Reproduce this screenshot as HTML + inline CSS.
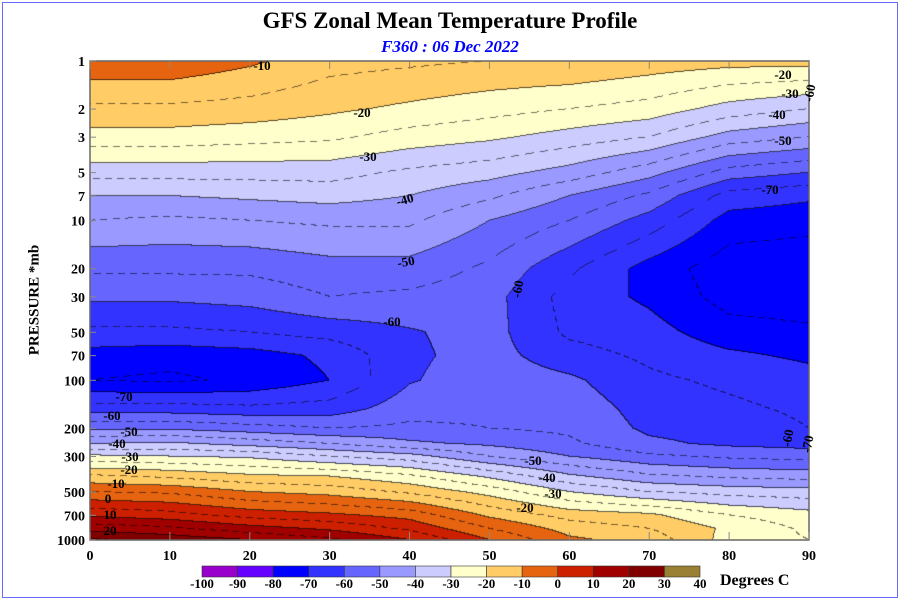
<!DOCTYPE html>
<html><head><meta charset="utf-8"><style>
body{margin:0;background:#fff;}
#wrap{position:relative;width:900px;height:600px;overflow:hidden;font-family:"Liberation Serif",serif;}
.t{position:absolute;font-weight:bold;white-space:nowrap;}
</style></head><body>
<div id="wrap">
<div style="position:absolute;left:2px;top:2px;width:894px;height:594px;border:1px solid #6a6aff;"></div>
<div class="t" style="left:0;width:900px;text-align:center;top:8px;font-size:23px;">GFS Zonal Mean Temperature Profile</div>
<div class="t" style="left:0;width:900px;text-align:center;top:37px;font-size:17px;color:#0000ff;font-style:italic;">F360 : 06 Dec 2022</div>
<div class="t" style="left:35px;top:300px;font-size:15px;transform:translate(-50%,-50%) rotate(-90deg);">PRESSURE *mb</div>
<canvas id="cv" width="719" height="479" style="position:absolute;left:90px;top:61px;"></canvas>
<svg id="ov" width="900" height="600" style="position:absolute;left:0;top:0;"></svg>
</div>
<script>
const lats=[0,10,20,30,40,50,60,70,80,90];
const pressures=[1,2,3,5,7,10,20,30,50,70,100,150,200,250,300,400,500,700,850,1000];
const t0 =[-6,-16,-22,-33,-40,-45,-54,-59,-66,-72,-75,-63,-51,-40,-29,-14,-5,9,18,26];
const t10=[-6,-16,-22,-33,-40,-46,-54,-59,-66,-73,-76,-63,-51,-39,-30,-16,-6,7,16,23];
const t20=[-9,-17,-23,-33,-39,-45,-54,-58,-65,-72,-74,-64,-53,-42,-31,-19,-10,3,12,20];
const t30=[-13,-19,-24,-33,-38,-44,-52,-55,-63,-69,-70,-63,-55,-45,-35,-20,-12,1,9,16];
const t40=[-14,-21,-27,-36,-40,-44,-52,-56,-60.5,-61,-60.5,-57,-54,-49,-38,-24,-16,-2,4,10];
const t50=[-15,-23,-29,-38,-44,-50,-56,-58,-58,-58,-57,-56,-55,-51,-45,-31,-22,-11,-5,0];
const t60=[-15,-25,-32,-42,-50,-55,-64,-67,-66,-63,-59,-57,-56,-54,-50,-39,-30,-17,-12,-9];
const t70=[-17,-27,-35,-48,-56,-62,-72,-71,-68,-66,-64,-62,-61,-59,-54,-44,-35,-19,-15,-12];
const t80=[-18,-32,-42,-57,-67,-72,-78,-77,-73,-69,-66,-64,-62,-61,-56,-46,-37,-25,-21,-22];
const t90=[-18,-35,-45,-60,-69,-73,-79,-78,-74,-71,-68,-66,-65,-62,-57,-47,-38,-28,-26,-25];
const temps=[t0,t10,t20,t30,t40,t50,t60,t70,t80,t90];
const bandEdges=[-100,-90,-80,-70,-60,-50,-40,-30,-20,-10,0,10,20,30,40];
const bandColors=["#9900cc","#6600ff","#0000ff","#3333ff","#6666ff","#9999ff","#ccccff","#ffffcc","#ffcc66","#e6640f","#cc2000","#a00000","#800000","#998033"];
const xTicks=[0,10,20,30,40,50,60,70,80,90];
const yTicks=[1,2,3,5,7,10,20,30,50,70,100,200,300,500,700,1000];

const X0=90,X1=809,Y0=61,Y1=540;
const xs=lat=>X0+(lat-lats[0])/(lats[lats.length-1]-lats[0])*(X1-X0);
const ys=p=>Y0+Math.log10(p/pressures[0])/Math.log10(pressures[pressures.length-1]/pressures[0])*(Y1-Y0);
const lp=pressures.map(p=>Math.log10(p));
function valAt(lat,logp){
  let fi=(lat-lats[0])/(lats[1]-lats[0]);fi=Math.max(0,Math.min(lats.length-1.0001,fi));
  const i=Math.floor(fi),a=fi-i;
  let j=0;while(j<lp.length-2&&logp>lp[j+1])j++;
  let b=(logp-lp[j])/(lp[j+1]-lp[j]);b=Math.max(0,Math.min(1,b));
  const v00=temps[i][j],v01=temps[i][j+1],v10=temps[i+1][j],v11=temps[i+1][j+1];
  return (v00*(1-b)+v01*b)*(1-a)+(v10*(1-b)+v11*b)*a;
}
function hex(c){return [parseInt(c.substr(1,2),16),parseInt(c.substr(3,2),16),parseInt(c.substr(5,2),16)];}
const rgb=bandColors.map(hex);
const cv=document.getElementById('cv'),ctx=cv.getContext('2d');
const W=cv.width,H=cv.height;
const V=new Float32Array(W*H);
const lo=Math.log10(pressures[0]),hi=Math.log10(pressures[pressures.length-1]);
for(let y=0;y<H;y++){const logp=lo+(y+0.5)/H*(hi-lo);
  for(let x=0;x<W;x++){const lat=lats[0]+(x+0.5)/W*(lats[lats.length-1]-lats[0]);V[y*W+x]=valAt(lat,logp);}}
const img=ctx.createImageData(W,H);
const band=v=>Math.max(0,Math.min(bandColors.length-1,Math.floor((v-bandEdges[0])/10)));
const half=v=>Math.floor((v-5)/10);
for(let y=0;y<H;y++)for(let x=0;x<W;x++){
  const k=y*W+x,v=V[k];let c=rgb[band(v)];
  const b=Math.floor(v/10);
  let edge=false,dash=false;
  if(x<W-1&&Math.floor(V[k+1]/10)!==b)edge=true;
  if(y<H-1&&Math.floor(V[k+W]/10)!==b)edge=true;
  const h=half(v);
  if(x<W-1&&half(V[k+1])!==h)dash=true;
  if(y<H-1&&half(V[k+W])!==h)dash=true;
  let r=c[0],g=c[1],bl=c[2];
  if(edge){r=r*0.35;g=g*0.35;bl=bl*0.35;}
  else if(dash&&((x+y)%12)<7){r=r*0.45;g=g*0.45;bl=bl*0.45;}
  img.data[k*4]=r;img.data[k*4+1]=g;img.data[k*4+2]=bl;img.data[k*4+3]=255;
}
ctx.putImageData(img,0,0);

const NS="http://www.w3.org/2000/svg",ov=document.getElementById('ov');
function mk(tag,attrs){const e=document.createElementNS(NS,tag);for(const k in attrs)e.setAttribute(k,attrs[k]);ov.appendChild(e);return e;}
const fr=mk('rect',{x:X0,y:Y0,width:X1-X0,height:Y1-Y0,fill:'none',stroke:'#666','stroke-width':1.5});


xTicks.forEach(t=>{
  const x=xs(t);
  const tk=mk('line',{x1:x,x2:x,y1:Y1,y2:Y1-8,stroke:'#888'});
  
  
  mk('line',{x1:x,x2:x,y1:Y0,y2:Y0+8,stroke:'#998866'});
  const tx=mk('text',{x:x,y:560,'text-anchor':'middle','font-size':14,'font-weight':'bold','font-family':'Liberation Serif'});
  tx.textContent=t;
  
  
});
yTicks.forEach(p=>{
  const y=ys(p);
  const tk=mk('line',{x1:X0,x2:X0+6,y1:y,y2:y,stroke:'#888'});
  
  
  const tx=mk('text',{x:85,y:y+5,'text-anchor':'end','font-size':14,'font-weight':'bold','font-family':'Liberation Serif'});
  tx.textContent=p;
  
  
});
const CB0=202,CB1=700,CBY=566,CBH=11,cw=(CB1-CB0)/bandColors.length;
bandColors.forEach((c,i)=>{
  const r=mk('rect',{x:CB0+i*cw,y:CBY,width:cw,height:CBH,fill:c,stroke:'#333','stroke-width':0.6});
  
  
});
bandEdges.forEach((v,i)=>{
  const tx=mk('text',{x:CB0+i*cw,y:588,'text-anchor':'middle','font-size':13,'font-weight':'bold','font-family':'Liberation Serif'});
  tx.textContent=v;
  
  
});
const dc=mk('text',{x:720,y:585,'font-size':16,'font-weight':'bold','font-family':'Liberation Serif'});
dc.textContent='Degrees C';


const cl=[["-10",262,70,0],["-20",362,117,0],["-30",368,161,0],["-40",405,204,-15],["-50",406,266,-10],["-60",392,326,0],["-60",518,293,-80],["-70",770,194,0],["-20",783,79,0],["-30",790,98,0],["-40",777,119,0],["-50",783,145,0],["-70",124,401,0],["-60",112,420,0],["-50",129,436,0],["-40",117,448,0],["-30",130,461,0],["-20",129,474,0],["-10",116,488,0],["0",108,503,0],["10",110,519,0],["20",110,535,0],["-50",533,465,0],["-40",547,482,0],["-30",553,498,0],["-20",525,512,0],["-60",788,442,-80],["-70",808,448,-80],["-60",810,97,-80]];
cl.forEach(l=>{
  const tx=mk('text',{x:l[1],y:l[2],'text-anchor':'middle','font-size':13,'font-weight':'bold','font-family':'Liberation Serif',transform:'rotate('+l[3]+' '+l[1]+' '+(l[2]-4)+')'});
  tx.textContent=l[0];
  
  
});
</script>
</body></html>
